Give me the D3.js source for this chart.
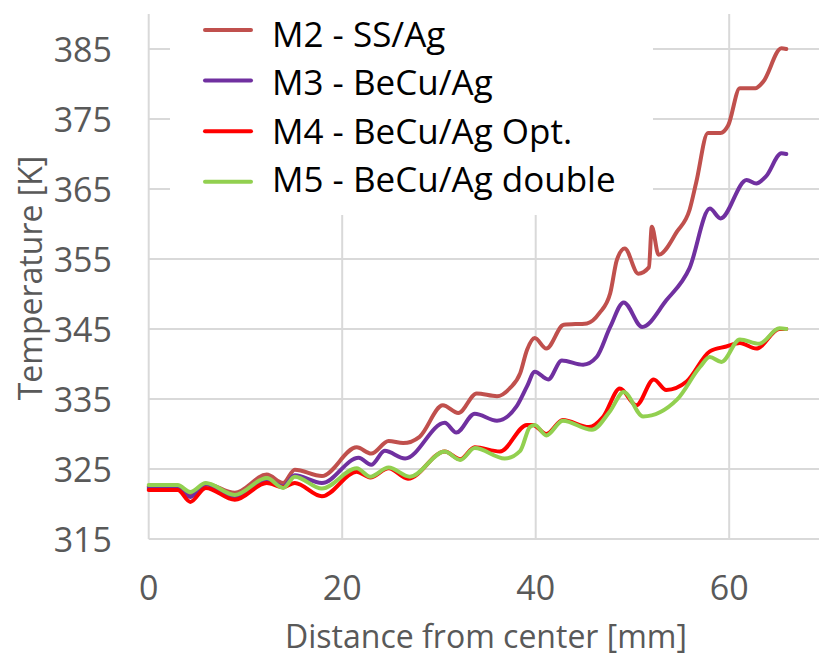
<!DOCTYPE html>
<html>
<head>
<meta charset="utf-8">
<script src="https://cdn.jsdelivr.net/npm/d3@7"></script>
<style>
  body { margin: 0; background: #fff; }
  svg { display: block; font-family: "Open Sans", sans-serif; }
  .tick-label { fill: #595959; font-size: 34px; }
  .axis-title { fill: #595959; font-size: 32px; }
  .legend-label { fill: #000; font-size: 35px; }
  .grid { stroke: #d9d9d9; stroke-width: 2; }
  .series { fill: none; stroke-width: 4; stroke-linejoin: round; stroke-linecap: round; }
</style>
</head>
<body>
<div id="chart"></div>
<script>
// ---- data ---------------------------------------------------------------
const seriesNames = ["M2 - SS/Ag", "M3 - BeCu/Ag", "M4 - BeCu/Ag Opt.", "M5 - BeCu/Ag double"];
const seriesColors = ["#c0504d", "#7030a0", "#ff0000", "#92d050"];

const xTicks = [0, 20, 40, 60];
const yTicks = [315, 325, 335, 345, 355, 365, 375, 385];

const m2X = [0, 3.0, 4.3, 5.9, 8.9, 12.2, 13.9, 15.1, 17.9, 21.5, 23.0, 24.8, 26.3, 28.0, 30.4, 32.0, 33.9, 36.0, 37.3, 38.4, 39.1, 39.9, 41.1, 42.9, 45.3, 46.6, 47.7, 48.4, 49.2, 50.6, 51.7, 52.0, 52.7, 54.6, 55.9, 56.6, 57.8, 59.1, 59.9, 61.1, 62.7, 63.5, 65.4, 65.9];
const m2T = [322.5, 322.5, 321.3, 322.9, 321.6, 324.2, 323.0, 324.9, 324.0, 328.1, 327.2, 329.0, 328.7, 329.6, 334.1, 333.0, 335.8, 335.4, 336.5, 338.7, 342.0, 343.7, 342.2, 345.6, 345.8, 347.3, 350.1, 354.9, 356.5, 352.9, 353.8, 359.6, 355.6, 358.9, 362.0, 366.0, 373.0, 373.0, 374.1, 379.4, 379.4, 380.3, 385.1, 385.0];

const m3X = [0, 3.0, 4.3, 5.9, 8.9, 12.2, 13.9, 15.1, 17.9, 21.7, 23.0, 24.4, 26.5, 30.6, 31.8, 33.7, 36.0, 38.0, 39.1, 39.9, 41.3, 42.7, 44.9, 46.3, 47.7, 49.1, 51.0, 53.5, 55.9, 58.0, 59.1, 61.8, 62.8, 63.8, 65.4, 65.9];
const m3T = [322.3, 322.3, 321.0, 322.8, 321.0, 323.4, 322.5, 324.1, 323.0, 326.6, 325.6, 327.6, 326.5, 331.6, 330.2, 332.9, 331.9, 333.9, 336.8, 338.9, 337.8, 340.5, 339.9, 341.0, 345.3, 348.8, 345.3, 349.1, 353.7, 362.2, 360.8, 366.3, 365.8, 366.8, 370.1, 370.0];

const m4X = [0, 3.0, 4.3, 5.9, 8.9, 12.2, 13.9, 15.1, 17.9, 21.5, 22.9, 24.8, 26.8, 30.6, 32.2, 33.7, 36.3, 39.1, 39.7, 41.1, 42.8, 45.5, 47.0, 48.7, 50.4, 52.2, 53.5, 55.6, 58.0, 59.7, 61.1, 62.8, 65.2, 65.9];
const m4T = [322.0, 322.0, 320.3, 322.3, 320.6, 323.0, 322.4, 323.0, 321.1, 324.6, 323.8, 325.1, 323.6, 327.5, 326.4, 328.1, 327.5, 331.3, 331.3, 330.0, 332.0, 331.0, 332.5, 336.5, 334.1, 337.8, 336.3, 337.5, 341.8, 342.5, 343.0, 342.2, 345.0, 345.0];

const m5X = [0, 3.0, 4.3, 5.9, 8.9, 12.2, 13.9, 15.1, 17.9, 21.5, 22.9, 24.8, 27.0, 30.6, 32.2, 33.7, 36.8, 38.4, 39.4, 39.9, 41.1, 42.8, 45.8, 47.7, 49.1, 51.1, 54.6, 57.0, 58.0, 59.2, 61.1, 63.1, 65.2, 65.9];
const m5T = [322.7, 322.7, 321.7, 323.0, 321.3, 323.7, 322.3, 323.9, 322.2, 325.1, 323.9, 325.2, 323.9, 327.5, 326.3, 328.0, 326.5, 327.6, 331.0, 331.3, 329.8, 331.9, 330.6, 333.3, 336.0, 332.5, 334.9, 339.6, 341.0, 340.3, 343.5, 342.9, 345.1, 345.0];

const seriesX = [m2X, m3X, m4X, m5X];
const seriesT = [m2T, m3T, m4T, m5T];

// ---- layout ----------------------------------------------------------------
const W = 819, H = 657;
const m = { left: 148.7, top: 14, bottom: 539 };

const svg = d3.select("#chart").append("svg")
  .attr("width", W).attr("height", H);

const x = d3.scaleLinear([0, 70], [m.left, m.left + 70 * 9.675]);
const y = d3.scaleLinear([315, 390], [m.bottom, m.top]);

// gridlines
svg.append("g").selectAll("line").data(yTicks).join("line")
  .attr("class", "grid")
  .attr("x1", m.left).attr("x2", W)
  .attr("y1", d => y(d)).attr("y2", d => y(d));
svg.append("g").selectAll("line").data(xTicks).join("line")
  .attr("class", "grid")
  .attr("x1", d => x(d)).attr("x2", d => x(d))
  .attr("y1", m.top).attr("y2", m.bottom);

// tick labels
svg.append("g").selectAll("text").data(yTicks).join("text")
  .attr("class", "tick-label")
  .attr("x", 112).attr("y", d => y(d))
  .attr("text-anchor", "end").attr("dominant-baseline", "central")
  .text(d => d);
svg.append("g").selectAll("text").data(xTicks).join("text")
  .attr("class", "tick-label")
  .attr("x", d => x(d)).attr("y", 600)
  .attr("text-anchor", "middle")
  .text(d => d);

// axis titles
svg.append("text").attr("class", "axis-title")
  .attr("transform", "translate(42,278) rotate(-90)")
  .attr("text-anchor", "middle")
  .text("Temperature [K]");
svg.append("text").attr("class", "axis-title")
  .attr("x", 486).attr("y", 648)
  .attr("text-anchor", "middle")
  .text("Distance from center [mm]");

// lines, M2 first, M5 on top
const line = d3.line()
  .x(d => x(d[0])).y(d => y(d[1]))
  .curve(d3.curveMonotoneX);
seriesNames.forEach((name, i) => {
  const pts = seriesX[i].map((v, j) => [v, seriesT[i][j]]);
  svg.append("path").attr("class", "series")
    .attr("stroke", seriesColors[i])
    .attr("d", line(pts));
});

// legend (white box hides the grid behind it)
const leg = svg.append("g");
leg.append("rect")
  .attr("x", 170).attr("y", 0).attr("width", 483).attr("height", 215)
  .attr("fill", "#fff");
seriesNames.forEach((name, i) => {
  const ly = 30 + i * 50.6;
  leg.append("line")
    .attr("x1", 205).attr("x2", 251).attr("y1", ly).attr("y2", ly)
    .attr("stroke", seriesColors[i]).attr("stroke-width", 4)
    .attr("stroke-linecap", "round");
  leg.append("text").attr("class", "legend-label")
    .attr("x", 272).attr("y", 46.7 + i * 48.5)
    .text(name);
});
</script>
</body>
</html>
